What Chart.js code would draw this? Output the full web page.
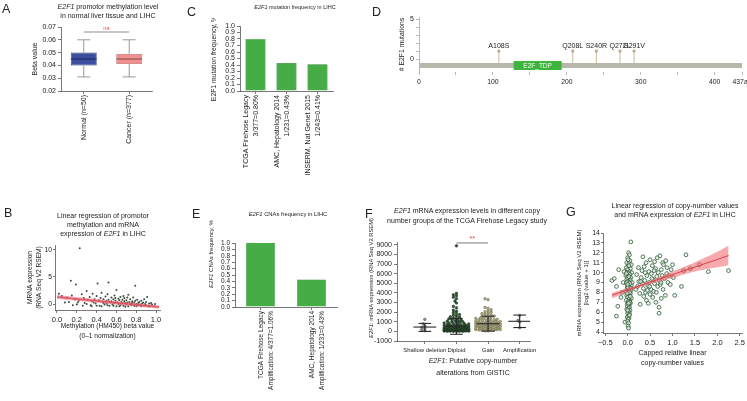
<!DOCTYPE html>
<html>
<head>
<meta charset="utf-8">
<title>E2F1 in LIHC</title>
<script src="https://cdn.jsdelivr.net/npm/chart.js@4.4.1/dist/chart.umd.min.js"></script>
<style>
  html, body { margin: 0; padding: 0; background: #fff; }
  body { position: relative; width: 747px; height: 401px; overflow: hidden;
         font-family: "Liberation Sans", Arial, sans-serif; color: #222; }
  canvas { position: absolute; }
  .lt, .tt, .rt { filter: grayscale(1); }
  .lt { position: absolute; font-size: 12.5px; line-height: 13px; }
  .tt { position: absolute; white-space: nowrap; text-align: center; transform: translateX(-50%); }
  .rt { position: absolute; white-space: nowrap; line-height: 1; transform: translate(-50%, -50%) rotate(-90deg); }
</style>
</head>
<body>
<div class="lt" style="left:2px;top:3px">A</div>
<div class="lt" style="left:4px;top:207px">B</div>
<div class="lt" style="left:187px;top:6px">C</div>
<div class="lt" style="left:372px;top:6px">D</div>
<div class="lt" style="left:192px;top:208px">E</div>
<div class="lt" style="left:365px;top:208px">F</div>
<div class="lt" style="left:566px;top:206px">G</div>

<div class="tt" style="left:108px;top:2px;font-size:7px;line-height:9px"><i>E2F1</i> promotor methylation level<br>in normal liver tissue and LIHC</div>
<div class="tt" style="left:103px;top:211px;font-size:7px;line-height:9px">Linear regression of promotor<br>methylation and mRNA<br>expression of <i>E2F1</i> in LIHC</div>
<div class="tt" style="left:295px;top:3px;font-size:5.5px;line-height:8px"><i>E2F1</i> mutation frequency in LIHC</div>
<div class="tt" style="left:288px;top:210px;font-size:5.8px;line-height:8px"><i>E2F1</i> CNAs frequency in LIHC</div>
<div class="tt" style="left:467px;top:206px;font-size:7px;line-height:10px"><i>E2F1</i> mRNA expression levels in different copy<br>number groups of the TCGA Firehose Legacy study</div>
<div class="tt" style="left:675px;top:201px;font-size:7px;line-height:9px">Linear regression of copy-number values<br>and mRNA expression of <i>E2F1</i> in LIHC</div>

<div class="rt" style="left:211px;top:254px;font-size:6px"><i>E2F1</i> CNAs frequency, %</div>
<div class="rt" style="left:372px;top:278px;font-size:5.8px"><i>E2F1</i>: mRNA expression (RNA Seq V2 RSEM)</div>
<div class="tt" style="left:473px;top:355px;font-size:7px;line-height:12px"><i>E2F1</i>: Putative copy-number<br>alterations from GISTIC</div>

<script>
// ---- A: promotor methylation box plot
const aLabels = ['Normal (n=50)', 'Cancer (n=377)'];
const aMin = [0.031, 0.031];
const aQ1 = [0.040, 0.041];
const aMedian = [0.045, 0.045];
const aQ3 = [0.050, 0.049];
const aMax = [0.060, 0.060];
const aSigY = 0.066;
const aSigText = 'ns';
const aYTicks = [0.02, 0.03, 0.04, 0.05, 0.06, 0.07];

// ---- B: methylation vs mRNA
const bPoints = [
  [0.23,10.3],[0.14,4.3],[0.19,3.6],[0.41,3.8],[0.52,4.0],[0.79,3.4],[0.02,1.9],[0.05,1.5],[0.10,1.2],[0.12,0.4],
  [0.15,1.6],[0.18,0.9],[0.20,-0.1],[0.22,0.6],[0.25,1.8],[0.27,1.1],[0.28,0.2],[0.30,2.4],[0.31,0.8],[0.33,1.3],
  [0.34,-0.2],[0.35,0.5],[0.36,1.9],[0.38,0.9],[0.39,0.1],[0.40,1.5],[0.42,0.7],[0.43,-0.3],[0.44,1.1],[0.45,2.1],
  [0.46,0.4],[0.47,0.9],[0.48,-0.1],[0.49,1.4],[0.50,0.6],[0.50,0.1],[0.51,1.8],[0.52,0.8],[0.53,-0.3],[0.54,0.3],
  [0.55,1.2],[0.55,0.5],[0.56,-0.1],[0.57,0.9],[0.58,0.2],[0.58,1.6],[0.59,0.6],[0.60,-0.4],[0.60,2.6],[0.61,0.3],
  [0.62,1.0],[0.62,0.0],[0.63,0.7],[0.64,-0.2],[0.64,1.3],[0.65,0.4],[0.66,0.1],[0.66,0.8],[0.67,-0.3],[0.68,0.5],
  [0.68,1.1],[0.69,0.2],[0.70,-0.1],[0.70,0.7],[0.71,0.3],[0.72,1.7],[0.72,-0.4],[0.73,0.4],[0.74,0.0],[0.74,0.9],
  [0.75,-0.2],[0.76,0.5],[0.76,0.2],[0.77,1.2],[0.78,-0.3],[0.78,0.3],[0.79,0.6],[0.80,0.0],[0.80,-0.4],[0.81,0.8],
  [0.82,0.2],[0.82,-0.2],[0.83,0.4],[0.84,-0.1],[0.85,0.6],[0.85,-0.4],[0.86,0.1],[0.87,0.3],[0.88,-0.3],[0.88,0.9],
  [0.89,0.0],[0.90,-0.2],[0.90,0.4],[0.91,1.3],[0.92,-0.4],[0.93,0.1],[0.94,-0.3],[0.95,0.2],[0.96,-0.1],[0.98,-0.4],
  [0.99,0.0],[0.35,-0.4],[0.45,-0.4],[0.26,-0.3],[0.16,-0.2],[0.08,0.3],[0.57,-0.3],[0.63,-0.4],[0.69,-0.5],[0.75,0.1],
  [0.53,0.4],[0.47,0.2],[0.40,-0.3],[0.37,0.3],[0.30,0.0],[0.21,0.3],[0.67,1.5],[0.71,1.2],[0.59,1.1],[0.51,-0.2]
];
const bFitX = [0, 1.03];
const bFitY = [1.3, -0.55];
const bBandLow = [0.95, -0.85];
const bBandHigh = [1.65, -0.25];
const bXTicks = [0, 0.2, 0.4, 0.6, 0.8, 1.0];
const bYTicks = [0, 5, 10];

// ---- C: mutation frequency
const cLabels = [['TCGA Firehose Legacy', '3/377=0.80%'], ['AMC, Hepatology 2014', '1/231=0.43%'], ['INSERM, Nat Genet 2015', '1/243=0.41%']];
const cValues = [0.80, 0.43, 0.41];
const freqTicks = [0, 0.1, 0.2, 0.3, 0.4, 0.5, 0.6, 0.7, 0.8, 0.9, 1.0];

// ---- D: lollipop
const dLength = 437;
const dDomain = [128, 193];
const dDomainName = 'E2F_TDP';
const dMutPos = [108, 208, 240, 272, 291];
const dMutLabel = ['A108S', 'Q208L', 'S240R', 'Q272L', 'G291V'];
const dMutCount = [1, 1, 1, 1, 1];
const dXTicks = [0, 50, 100, 150, 200, 250, 300, 350, 400, 437];
const dYTicks = [0, 1, 2, 3, 4, 5];

// ---- E: CNA frequency
const eLabels = [['TCGA Firehose Legacy', 'Amplification: 4/377=1.06%'], ['AMC, Hepatology 2014', 'Amplification: 1/231=0.43%']];
const eValues = [1.06, 0.43];

// ---- F: mRNA by copy number group
const fCats = ['Shallow deletion', 'Diploid', 'Gain', 'Amplification'];
const fShallow = [1250, 780, 560, 430, 320, 170, 60];
const fDiploid = [8900, 3950, 3800, 3700, 3550, 3400, 3150, 2950, 2600, 2450, 2200, 2100, 1950, 1850, 1750, 1680,
  1600, 1520, 1480, 1400, 1330, 1290, 1240, 1180, 1150, 1100, 1060, 1020, 990, 960, 930, 880, 860, 830, 790, 770,
  740, 720, 690, 670, 650, 620, 610, 580, 560, 550, 530, 510, 490, 480, 460, 450, 430, 420, 410, 390, 380, 370, 350,
  340, 330, 320, 300, 290, 280, 270, 260, 250, 245, 230, 220, 215, 200, 190, 185, 170, 160, 155, 140, 135, 120, 115,
  100, 95, 90, 80, 75, 60, 55, 50, 40, 35, 30, 20, 15, 10, 5, 310, 260, 180, 130, 70, 45, 25, 520, 440, 360, 240,
  150, 110, 65];
const fGain = [3400, 3300, 2500, 2400, 2250, 2150, 2050, 1980, 1900, 1850, 1780, 1700, 1650, 1600, 1560, 1500, 1450,
  1420, 1380, 1350, 1300, 1260, 1230, 1200, 1170, 1140, 1100, 1080, 1050, 1020, 1000, 970, 950, 920, 900, 880, 860,
  840, 820, 800, 780, 760, 740, 720, 700, 690, 670, 650, 630, 610, 600, 580, 560, 540, 520, 500, 490, 470, 450, 430,
  420, 400, 380, 360, 340, 330, 310, 290, 270, 250, 230, 210, 190, 170, 150, 130, 110, 90, 70, 50, 880, 750, 640,
  530, 460, 370, 280, 200, 1250, 1050, 960, 820, 700, 590, 480];
const fAmp = [1650, 1150, 980, 380];
const fMean = [450, 550, 800, 1050];
const fSdLow = [0, -300, 30, 400];
const fSdHigh = [830, 1340, 1580, 1700];
const fSigY = 9200;
const fSigText = '**';
const fYTicks = [-1000, 0, 1000, 2000, 3000, 4000, 5000, 6000, 7000, 8000, 9000];

// ---- G: copy number vs mRNA
const gPoints = [
  [-0.35,9.2],[-0.30,9.4],[-0.20,10.3],[-0.25,8.6],[-0.22,6.6],[-0.25,5.6],[-0.12,8.0],[-0.10,9.0],[-0.08,10.1],[-0.06,5.0],[-0.15,7.5],
  [0.07,13.1],[0.02,12.0],[0.04,11.8],[0.00,11.5],[0.05,11.2],[-0.02,11.0],[0.03,10.9],[0.08,10.8],[0.01,10.6],[-0.03,10.5],
  [0.06,10.4],[0.00,10.3],[0.04,10.1],[-0.01,10.0],[0.09,10.0],[0.02,9.9],[0.05,9.8],[-0.04,9.7],[0.01,9.6],[0.07,9.5],
  [0.03,9.4],[-0.02,9.3],[0.06,9.2],[0.00,9.1],[0.04,9.0],[0.10,9.0],[-0.03,8.9],[0.02,8.8],[0.08,8.7],[0.00,8.6],
  [0.05,8.5],[-0.01,8.4],[0.03,8.3],[0.07,8.2],[-0.04,8.1],[0.01,8.0],[0.06,7.9],[0.02,7.8],[-0.02,7.7],[0.04,7.6],
  [0.00,7.5],[0.08,7.4],[0.03,7.3],[-0.03,7.2],[0.05,7.1],[0.01,7.0],[0.06,6.9],[-0.01,6.8],[0.03,6.7],[0.00,6.6],
  [0.04,6.5],[0.02,6.4],[-0.02,6.3],[0.05,6.2],[0.01,6.1],[0.03,6.0],[0.00,5.9],[0.04,5.8],[0.02,5.6],[-0.01,5.5],
  [0.03,5.4],[0.01,5.3],[0.00,5.1],[0.02,4.9],[0.01,4.6],[0.02,4.4],
  [0.00,9.5],[0.03,9.6],[-0.02,9.0],[0.05,8.9],[0.01,8.5],[0.04,8.0],[-0.01,7.9],[0.06,7.6],[0.02,7.1],[0.00,8.8],
  [0.07,8.4],[-0.03,9.9],[0.03,10.7],[0.01,11.3],[0.05,7.0],[0.02,6.9],[0.00,6.2],[0.04,5.7],
  [0.20,9.8],[0.22,8.6],[0.25,9.1],[0.27,7.9],[0.28,6.8],[0.30,9.5],[0.32,10.2],[0.33,8.9],[0.35,8.4],[0.36,7.6],
  [0.37,10.6],[0.38,9.2],[0.40,8.0],[0.41,11.0],[0.42,7.2],[0.43,9.7],[0.45,8.7],[0.46,6.9],[0.47,10.1],[0.48,9.0],
  [0.50,7.8],[0.50,11.3],[0.52,8.3],[0.53,9.9],[0.55,10.7],[0.56,7.5],[0.57,9.3],[0.58,8.1],[0.60,11.1],[0.60,8.9],
  [0.62,10.4],[0.63,7.0],[0.65,9.6],[0.66,11.5],[0.67,8.6],[0.68,10.0],[0.70,6.5],[0.70,5.9],[0.71,9.2],[0.72,11.7],
  [0.73,8.8],[0.75,10.3],[0.75,7.4],[0.77,9.7],[0.78,11.0],[0.79,8.3],[0.80,10.8],[0.82,9.4],[0.84,7.7],[0.85,11.2],
  [0.87,9.9],[0.88,10.5],[0.90,9.0],[0.92,9.7],[0.95,8.8],[0.97,10.3],[1.00,10.8],[1.02,9.5],[1.05,7.7],[0.24,10.5],
  [0.34,11.6],[0.44,8.2],[0.54,9.4],[0.64,8.0],[0.74,9.0],[0.18,8.3],[0.29,9.1],[0.39,10.0],[0.49,8.6],[0.59,10.2],
  [1.20,8.6],[1.25,10.2],[1.30,11.8],[1.40,10.4],[1.60,10.8],[1.80,10.1],[2.25,10.2]
];
const gFitX = [-0.35, 2.25];
const gFitY = [7.72, 11.72];
const gBandX = [-0.35, 0, 0.3, 0.6, 1.0, 1.5, 2.0, 2.25];
const gBandLow = [7.4, 8.05, 8.55, 8.95, 9.45, 10.1, 10.55, 10.75];
const gBandHigh = [7.95, 8.45, 8.85, 9.35, 10.1, 11.05, 12.1, 12.7];
const gXTicks = [-0.5, 0, 0.5, 1.0, 1.5, 2.0, 2.5];
const gYTicks = [4, 5, 6, 7, 8, 9, 10, 11, 12, 13, 14];

// ---------------------------------------------------------------
const FF = '"Liberation Sans", Arial, sans-serif';
const GREEN = '#46ad46';
Chart.defaults.font.family = FF;
Chart.defaults.font.size = 7;
Chart.defaults.color = '#222';
Chart.defaults.animation = false;
Chart.defaults.responsive = false;
Chart.defaults.plugins.legend.display = false;
Chart.defaults.plugins.tooltip.enabled = false;

function mk(left, top, w, h) {
  const c = document.createElement('canvas');
  c.width = w; c.height = h;
  c.style.left = left + 'px'; c.style.top = top + 'px';
  c.style.width = w + 'px'; c.style.height = h + 'px';
  document.body.appendChild(c);
  return c.getContext('2d');
}
const fixW = w => s => { s.width = w; };
const fixH = h => s => { s.height = h; };
const setTicks = arr => s => { s.ticks = arr.map(v => ({ value: v })); };
function axis(size, o) {
  const a = Object.assign({}, o);
  a.border = Object.assign({ color: '#555', width: 0.8 }, o.border);
  a.grid = Object.assign({ drawOnChartArea: false, tickLength: 3, color: '#555', lineWidth: 0.8 }, o.grid);
  a.ticks = Object.assign({ font: { size: size }, color: '#222', padding: 2, autoSkip: false }, o.ticks);
  return a;
}
const pts = arr => arr.map(p => ({ x: p[0], y: p[1] }));
const seg = (x1, y1, x2, y2, color, width) => ({
  data: [{ x: x1, y: y1 }, { x: x2, y: y2 }], showLine: true, pointRadius: 0,
  borderColor: color, borderWidth: width
});

// ================= A =================
const boxExtras = {
  id: 'boxExtras',
  afterDatasetsDraw(chart) {
    const { ctx, scales: { x, y } } = chart;
    const meta = chart.getDatasetMeta(0);
    ctx.save();
    aLabels.forEach((lab, i) => {
      const px = x.getPixelForValue(i);
      const half = meta.data[i].width / 2;
      const cap = half * 0.5;
      ctx.strokeStyle = '#8d8d8d';
      ctx.lineWidth = 0.9;
      ctx.beginPath();
      ctx.moveTo(px, y.getPixelForValue(aMin[i])); ctx.lineTo(px, y.getPixelForValue(aQ1[i]));
      ctx.moveTo(px, y.getPixelForValue(aQ3[i])); ctx.lineTo(px, y.getPixelForValue(aMax[i]));
      ctx.moveTo(px - cap, y.getPixelForValue(aMin[i])); ctx.lineTo(px + cap, y.getPixelForValue(aMin[i]));
      ctx.moveTo(px - cap, y.getPixelForValue(aMax[i])); ctx.lineTo(px + cap, y.getPixelForValue(aMax[i]));
      ctx.stroke();
      ctx.strokeStyle = i === 0 ? '#1c2660' : '#7a4848';
      ctx.lineWidth = 1;
      ctx.beginPath();
      ctx.moveTo(px - half, y.getPixelForValue(aMedian[i])); ctx.lineTo(px + half, y.getPixelForValue(aMedian[i]));
      ctx.stroke();
    });
    ctx.fillStyle = '#e0483e';
    ctx.font = '6px ' + FF;
    ctx.textAlign = 'center';
    ctx.textBaseline = 'bottom';
    ctx.fillText(aSigText, (x.getPixelForValue(0) + x.getPixelForValue(1)) / 2, y.getPixelForValue(aSigY) - 1);
    ctx.restore();
  }
};

new Chart(mk(20, 20, 140, 130), {
  type: 'bar',
  data: {
    labels: aLabels,
    datasets: [
      {
        data: aQ1.map((q, i) => [q, aQ3[i]]),
        backgroundColor: ['#3d4e9e', '#ef8f8f'],
        borderColor: ['#2b3a7c', '#c86a6a'],
        borderWidth: 0.8, borderSkipped: false,
        barPercentage: 0.57, categoryPercentage: 1
      },
      {
        type: 'line',
        data: [{ x: aLabels[0], y: aSigY }, { x: aLabels[1], y: aSigY }],
        borderColor: '#c6c6c6', borderWidth: 2, pointRadius: 0
      }
    ]
  },
  options: {
    layout: { padding: { top: 7, right: 8, left: 0, bottom: 0 } },
    scales: {
      x: axis(7, {
        grid: { offset: false },
        ticks: { minRotation: 90, maxRotation: 90, padding: 1 },
        afterFit: fixH(59)
      }),
      y: axis(7, {
        min: 0.02, max: 0.07,
        afterBuildTicks: setTicks(aYTicks),
        ticks: { callback: v => v.toFixed(2) },
        afterFit: fixW(41),
        title: { display: true, text: 'Beta value', font: { size: 7 }, padding: { top: 11, bottom: 0 } }
      })
    }
  },
  plugins: [boxExtras]
});

// ================= B =================
new Chart(mk(20, 240, 150, 105), {
  type: 'scatter',
  data: {
    datasets: [
      seg(bFitX[0], bFitY[0], bFitX[1], bFitY[1], 'rgba(226,80,95,0.9)', 1.4),
      {
        data: bFitX.map((x, i) => ({ x: x, y: bBandHigh[i] })), showLine: true, pointRadius: 0,
        borderWidth: 0, fill: '+1', backgroundColor: 'rgba(236,110,122,0.55)'
      },
      { data: bFitX.map((x, i) => ({ x: x, y: bBandLow[i] })), showLine: true, pointRadius: 0, borderWidth: 0 },
      { data: pts(bPoints), pointRadius: 1, pointBackgroundColor: '#3a4d3c', pointBorderWidth: 0 }
    ]
  },
  options: {
    layout: { padding: { top: 5, right: 10, left: 0, bottom: 0 } },
    scales: {
      x: axis(7.5, {
        type: 'linear', min: -0.02, max: 1.04,
        afterBuildTicks: setTicks(bXTicks),
        ticks: { maxRotation: 0, callback: v => v.toFixed(1) },
        afterFit: fixH(35),
        title: { display: true, text: ['Methylation (HM450) beta value', '(0\u20131 normalization)'],
                 font: { size: 6.6, lineHeight: 1.5 }, padding: { top: 0, bottom: 4 } }
      }),
      y: axis(6.8, {
        min: -1.1, max: 10.9,
        grid: { tickLength: 2 },
        afterBuildTicks: setTicks(bYTicks),
        ticks: { padding: 1 },
        afterFit: fixW(35),
        title: { display: true, text: ['MRNA expression', '(RNA Seq V2 RSEM)'],
                 font: { size: 6.6, lineHeight: 1.4 }, padding: { top: 5.5, bottom: 0 } }
      })
    }
  }
});

// ================= C =================
new Chart(mk(200, 18, 145, 165), {
  type: 'bar',
  data: {
    labels: cLabels,
    datasets: [{
      data: cValues, backgroundColor: GREEN, borderColor: '#2f8a34', borderWidth: 0.6,
      barPercentage: 0.65, categoryPercentage: 1
    }]
  },
  options: {
    layout: { padding: { top: 8, right: 12, left: 0, bottom: 0 } },
    scales: {
      x: axis(7, {
        grid: { offset: false },
        ticks: { minRotation: 90, maxRotation: 90, padding: 1, labelOffset: -9, font: { size: 7, lineHeight: 1.4 } },
        afterFit: fixH(92)
      }),
      y: axis(7, {
        min: 0, max: 1,
        afterBuildTicks: setTicks(freqTicks),
        ticks: { callback: v => v.toFixed(1) },
        afterFit: fixW(40),
        title: { display: true, text: 'E2F1 mutation frequency, %', font: { size: 6.8 }, padding: { top: 10, bottom: 0 } }
      })
    }
  }
});

// ================= D =================
const dTrackY = -0.8;
const lolliText = {
  id: 'lolliText',
  afterDatasetsDraw(chart) {
    const { ctx, scales: { x, y } } = chart;
    ctx.save();
    ctx.font = '7px ' + FF;
    ctx.fillStyle = '#222';
    ctx.textAlign = 'center';
    ctx.textBaseline = 'alphabetic';
    dMutPos.forEach((p, i) => ctx.fillText(dMutLabel[i], x.getPixelForValue(p), y.getPixelForValue(dMutCount[i]) - 3));
    ctx.fillStyle = '#f4fff4';
    ctx.font = '6.5px ' + FF;
    ctx.textBaseline = 'middle';
    ctx.fillText(dDomainName, x.getPixelForValue((dDomain[0] + dDomain[1]) / 2), y.getPixelForValue(dTrackY) + 0.5);
    ctx.restore();
  }
};
new Chart(mk(390, 5, 365, 85), {
  type: 'scatter',
  data: {
    datasets: dMutPos.map((p, i) => ({
      data: [{ x: p, y: dTrackY + 0.3 }, { x: p, y: dMutCount[i] }], showLine: true,
      borderColor: '#c3b597', borderWidth: 0.9, pointRadius: [0, 1.6],
      pointBackgroundColor: '#b9a983', pointBorderWidth: 0
    })).concat([
      seg(dDomain[0], dTrackY, dDomain[1], dTrackY, '#3db53d', 9),
      seg(0, dTrackY, dLength, dTrackY, '#b7b7ab', 5)
    ])
  },
  options: {
    layout: { padding: { top: 12, right: 13, left: 0, bottom: 0 } },
    scales: {
      x: axis(6.8, {
        type: 'linear', min: 0, max: dLength,
        border: { display: false },
        grid: { color: '#aaa' },
        afterBuildTicks: setTicks(dXTicks),
        ticks: { maxRotation: 0, padding: 3, callback: v => v === dLength ? v + 'aa' : (v % 100 === 0 ? v : '') },
        afterFit: fixH(18)
      }),
      y: axis(7, {
        min: -1.6, max: 5.25,
        border: { color: '#aaa' },
        grid: { color: '#aaa' },
        afterBuildTicks: setTicks(dYTicks),
        ticks: { callback: v => (v === 0 || v === 5) ? v : '' },
        afterFit: fixW(29),
        title: { display: true, text: '# E2F1 mutations', font: { size: 6.8 }, padding: { top: 8, bottom: 0 } }
      })
    }
  },
  plugins: [lolliText]
});

// ================= E =================
new Chart(mk(195, 235, 145, 165), {
  type: 'bar',
  data: {
    labels: eLabels,
    datasets: [{
      data: eValues, backgroundColor: GREEN, borderColor: '#2f8a34', borderWidth: 0.6,
      barPercentage: 0.57, categoryPercentage: 1
    }]
  },
  options: {
    layout: { padding: { top: 8, right: 3, left: 0, bottom: 0 } },
    scales: {
      x: axis(6.5, {
        grid: { offset: false },
        ticks: { minRotation: 90, maxRotation: 90, padding: 1, labelOffset: 1, font: { size: 6.5, lineHeight: 1.45 } },
        afterFit: fixH(93)
      }),
      y: axis(6.5, {
        min: 0, max: 1,
        afterBuildTicks: setTicks(freqTicks),
        ticks: { callback: v => v.toFixed(1) },
        afterFit: fixW(40)
      })
    }
  }
});

// ================= F =================
const F_PX_X = 33;
const F_PX_Y = 99 / 10300;
function swarm(values, center) {
  const placed = [];
  return values.slice().sort((a, b) => a - b).map((v, n) => {
    const py = v * F_PX_Y;
    let off = null;
    for (let k = 0; k <= 16; k++) {
      const o = (k % 2 ? -1 : 1) * Math.ceil(k / 2) * 1.6;
      if (placed.every(p => Math.hypot(p.px - o, p.py - py) >= 2.2)) { off = o; break; }
    }
    if (off === null) off = ((n * 7) % 17 - 8) * 1.6;
    placed.push({ px: off, py: py });
    return { x: center + off / F_PX_X, y: v };
  });
}
const fGroups = [fShallow, fDiploid, fGain, fAmp];
const fFill = ['#8e8e8e', '#2f5832', '#aca77c', '#8e8e8e'];
const fEdge = ['#555', '#1b2b1c', '#6c6b50', '#555'];
const fBars = [];
fCats.forEach((c, i) => {
  fBars.push(seg(i - 0.36, fMean[i], i + 0.36, fMean[i], '#2a2a2a', 1.1));
  fBars.push(seg(i, fSdLow[i], i, fSdHigh[i], '#2a2a2a', 1.1));
  fBars.push(seg(i - 0.2, fSdLow[i], i + 0.2, fSdLow[i], '#2a2a2a', 1.1));
  fBars.push(seg(i - 0.2, fSdHigh[i], i + 0.2, fSdHigh[i], '#2a2a2a', 1.1));
});
const fSig = {
  id: 'fSig',
  afterDatasetsDraw(chart) {
    const { ctx, scales: { x, y } } = chart;
    ctx.save();
    ctx.fillStyle = '#e0483e';
    ctx.font = '7px ' + FF;
    ctx.textAlign = 'center';
    ctx.textBaseline = 'bottom';
    ctx.fillText(fSigText, (x.getPixelForValue(1) + x.getPixelForValue(2)) / 2, y.getPixelForValue(fSigY) - 0.5);
    ctx.restore();
  }
};
new Chart(mk(360, 235, 180, 145), {
  type: 'scatter',
  data: {
    datasets: fBars.concat([seg(1, fSigY, 2, fSigY, '#555', 0.8)]).concat(fGroups.map((g, i) => ({
      data: swarm(g, i), pointRadius: 1.3, pointBackgroundColor: fFill[i],
      pointBorderColor: fEdge[i], pointBorderWidth: 0.5
    })))
  },
  options: {
    layout: { padding: { top: 7, right: 8, left: 0, bottom: 0 } },
    scales: {
      x: axis(5.9, {
        type: 'linear', min: -0.88, max: 3.33,
        afterBuildTicks: setTicks([0, 1, 2, 3]),
        ticks: { maxRotation: 0, padding: 3, callback: v => fCats[v] },
        afterFit: fixH(39)
      }),
      y: axis(7, {
        min: -1000, max: 9300,
        afterBuildTicks: setTicks(fYTicks),
        ticks: { callback: v => String(v) },
        afterFit: fixW(37)
      })
    }
  },
  plugins: [fSig]
});

// ================= G =================
new Chart(mk(573, 225, 180, 145), {
  type: 'scatter',
  data: {
    datasets: [
      seg(gFitX[0], gFitY[0], gFitX[1], gFitY[1], '#d8434c', 1),
      {
        data: gBandX.map((x, i) => ({ x: x, y: gBandHigh[i] })), showLine: true, pointRadius: 0,
        borderWidth: 0, tension: 0.4, fill: '+1', backgroundColor: 'rgba(240,100,105,0.55)'
      },
      { data: gBandX.map((x, i) => ({ x: x, y: gBandLow[i] })), showLine: true, pointRadius: 0, borderWidth: 0, tension: 0.4 },
      {
        data: pts(gPoints), pointRadius: 1.9, pointBackgroundColor: 'rgba(236,244,236,0.7)',
        pointBorderColor: '#2c5a34', pointBorderWidth: 0.8
      }
    ]
  },
  options: {
    layout: { padding: { top: 8, right: 11, left: 0, bottom: 0 } },
    scales: {
      x: axis(7.5, {
        type: 'linear', min: -0.55, max: 2.55,
        afterBuildTicks: setTicks(gXTicks),
        ticks: { maxRotation: 0, callback: v => v.toFixed(1).replace('-', '\u2212') },
        afterFit: fixH(37),
        title: { display: true, text: ['Capped relative linear', 'copy-number values'],
                 font: { size: 7, lineHeight: 1.4 }, padding: { top: 0, bottom: 2 } }
      }),
      y: axis(7, {
        min: 3.9, max: 14,
        grid: { tickLength: 2 },
        afterBuildTicks: setTicks(gYTicks),
        ticks: { padding: 1 },
        afterFit: fixW(30),
        title: { display: true, text: ['mRNA expression (RNA Seq V2 RSEM)', '[log2 (value + 1)]'],
                 font: { size: 6, lineHeight: 1.2 }, padding: { top: 3, bottom: 0 } }
      })
    }
  }
});
</script>
</body>
</html>
